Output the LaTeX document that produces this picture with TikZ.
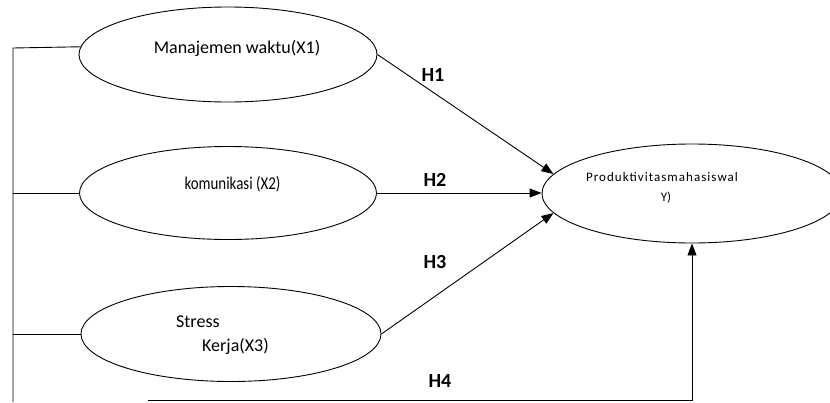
\documentclass[tikz,border=0pt]{standalone}
\usepackage{graphicx}
\usepackage{fontspec}
\setmainfont{Carlito}
\usetikzlibrary{shapes.geometric,arrows.meta}
\begin{document}
\begin{tikzpicture}[x=1pt,y=-1pt,
  var/.style={draw=black,line width=0.9pt,ellipse,inner sep=0pt},
  txt/.style={inner sep=0pt,font=\fontsize{18}{20}\selectfont},
  hlab/.style={inner sep=0pt,font=\fontsize{20}{22}\selectfont\bfseries},
  link/.style={draw=black,line width=0.9pt},
  arr/.style={link,-{Triangle[length=12pt,width=9pt]}}]
\useasboundingbox (0,0) rectangle (830,402);
\node[var,minimum width=298pt,minimum height=95pt] (e1) at (228,54.5) {};
\node[var,minimum width=297pt,minimum height=93pt] (e2) at (228,193) {};
\node[var,minimum width=300pt,minimum height=95pt] (e3) at (231,334) {};
\node[var,minimum width=300pt,minimum height=99pt] (y) at (692,193.5) {};
\node[txt] (t1) at (237,48) {Manajemen waktu(X1)};
\node[txt] (t2) at (232.5,184) {\scalebox{0.83}[1]{komunikasi (X2)}};
\node[txt,anchor=west] (t3a) at (176,322) {Stress};
\node[txt,anchor=west] (t3b) at (202,346) {Kerja(X3)};
\node[inner sep=0pt,font=\fontsize{13}{15}\selectfont\addfontfeatures{LetterSpace=8}] (ty1) at (662,177) {Produktivitasmahasiswal};
\node[inner sep=0pt,font=\fontsize{13}{15}\selectfont] (ty2) at (666,198) {Y)};
\node[hlab] (h1) at (433,75) {H1};
\node[hlab] (h2) at (435,180) {H2};
\node[hlab] (h3) at (435,262) {H3};
\node[hlab] (h4) at (440,381) {H4};
\coordinate (ltop) at (13,48);
\coordinate (lbot) at (13,402);
\coordinate (bstart) at (148,400.5);
\coordinate (bcorner) at (692,400.5);
\draw[link] (e1.177) -- (ltop) -- (lbot);
\draw[link] (e2.west) -- (e2.west -| ltop);
\draw[link] (e3.west) -- (e3.west -| ltop);
\draw[arr] (e1.east) -- (y.172);
\draw[arr] (e2.east) -- (y.west |- e2.east);
\draw[arr] (e3.east) -- (y.188);
\draw[arr] (bstart) -- (bcorner) -- (y.south);
\end{tikzpicture}
\end{document}
